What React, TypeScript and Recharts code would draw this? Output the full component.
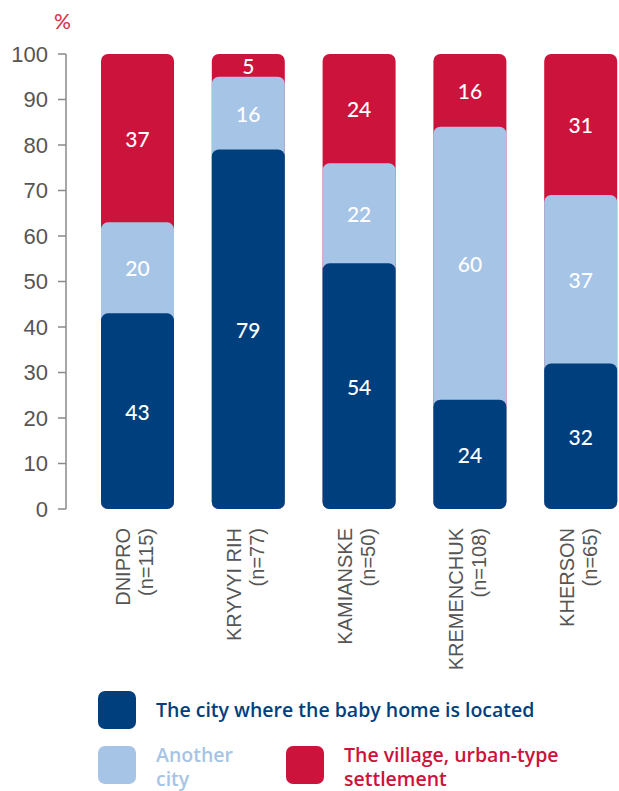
import { BarChart, Bar, XAxis, YAxis, LabelList } from 'recharts';

const cities = ['DNIPRO', 'KRYVYI RIH', 'KAMIANSKE', 'KREMENCHUK', 'KHERSON'];
const sampleSizes = ['(n=115)', '(n=77)', '(n=50)', '(n=108)', '(n=65)'];
const sameCity = [43, 79, 54, 24, 32];
const anotherCity = [20, 16, 22, 60, 37];
const village = [37, 5, 24, 16, 31];
const yTicks = [0, 10, 20, 30, 40, 50, 60, 70, 80, 90, 100];

const DARK = '#003f7e';
const LIGHT = '#a6c4e6';
const RED = '#cc133b';
const LABEL_FONT = 'Lato, "Noto Sans", sans-serif';
const LEGEND_FONT = '"Open Sans", Lato, sans-serif';
const AXIS_FONT = "'Liberation Sans', Arial, sans-serif";

// segments overlap: each bar runs from 0 up to its cumulative top, lower segments drawn last
const data = cities.map((city, i) => ({
  city,
  n: sampleSizes[i],
  sameCity: sameCity[i],
  anotherCity: anotherCity[i],
  village: village[i],
  lvl1: sameCity[i],
  lvl2: sameCity[i] + anotherCity[i],
  lvl3: sameCity[i] + anotherCity[i] + village[i],
}));

const makeLabel = (cumKey: 'lvl1' | 'lvl2' | 'lvl3') => (props: any) => {
  const { x, y, width, height, value, index } = props;
  const cum = data[index][cumKey];
  const cy = y + ((value / cum) * height) / 2;
  return (
    <text
      x={x + width / 2}
      y={cy}
      fill="#fff"
      fontSize={21}
      fontWeight={500}
      fontFamily={LABEL_FONT}
      textAnchor="middle"
      dominantBaseline="central"
    >
      {value}
    </text>
  );
};

const CityTick = (props: any) => {
  const { x, y, payload, index } = props;
  return (
    <g transform={`translate(${x},${y + 11}) rotate(-90)`}>
      <text x={0} y={-7} textAnchor="end" fill="#555" fontSize={20} fontFamily={AXIS_FONT}>
        {payload.value}
      </text>
      <text x={0} y={16} textAnchor="end" fill="#555" fontSize={20} fontFamily={AXIS_FONT}>
        {sampleSizes[index]}
      </text>
    </g>
  );
};

const LegendBox = ({ color }: { color: string }) => (
  <div style={{ width: 38, height: 38, borderRadius: 7, background: color, flexShrink: 0 }} />
);

export default function App() {
  const legendText = {
    fontFamily: LEGEND_FONT,
    fontSize: 19.5,
    fontWeight: 600,
    lineHeight: '24px',
  };

  return (
    <div
      style={{
        position: 'absolute',
        left: 0,
        top: 0,
        width: 619,
        height: 791,
        overflow: 'hidden',
        background: '#fff',
      }}
    >
      <div
        style={{
          position: 'absolute',
          left: 54,
          top: 8,
          color: '#d6384f',
          fontSize: 21,
          fontFamily: LABEL_FONT,
          fontWeight: 500,
        }}
      >
        %
      </div>

      <div style={{ position: 'absolute', left: 0, top: 0 }}>
        <BarChart
          width={640}
          height={685}
          data={data}
          margin={{ top: 54, right: 4, left: 0, bottom: 0 }}
        >
          <XAxis
            xAxisId="a"
            dataKey="city"
            height={176}
            axisLine={false}
            tickLine={false}
            interval={0}
            padding={{ left: 16, right: 0 }}
            tick={<CityTick />}
          />
          <XAxis xAxisId="b" dataKey="city" hide padding={{ left: 16, right: 0 }} />
          <XAxis xAxisId="c" dataKey="city" hide padding={{ left: 16, right: 0 }} />
          <YAxis
            width={66}
            domain={[0, 100]}
            ticks={yTicks}
            interval={0}
            tickSize={8}
            tickMargin={10}
            axisLine={{ stroke: '#8a8a8a', strokeWidth: 1.5 }}
            tickLine={{ stroke: '#8a8a8a', strokeWidth: 1.5 }}
            tick={{ fill: '#555', fontSize: 22, fontFamily: AXIS_FONT }}
          />
          <Bar xAxisId="c" dataKey="lvl3" fill={RED} barSize={73} radius={7} isAnimationActive={false}>
            <LabelList dataKey="village" content={makeLabel('lvl3')} />
          </Bar>
          <Bar xAxisId="b" dataKey="lvl2" fill={LIGHT} barSize={73} radius={7} isAnimationActive={false}>
            <LabelList dataKey="anotherCity" content={makeLabel('lvl2')} />
          </Bar>
          <Bar xAxisId="a" dataKey="lvl1" fill={DARK} barSize={73} radius={7} isAnimationActive={false}>
            <LabelList dataKey="sameCity" content={makeLabel('lvl1')} />
          </Bar>
        </BarChart>
      </div>

      <div style={{ position: 'absolute', left: 98, top: 691, display: 'flex', alignItems: 'center' }}>
        <LegendBox color={DARK} />
        <span style={{ ...legendText, color: DARK, marginLeft: 20 }}>
          The city where the baby home is located
        </span>
      </div>

      <div style={{ position: 'absolute', left: 98, top: 746, display: 'flex', alignItems: 'flex-start' }}>
        <LegendBox color={LIGHT} />
        <span style={{ ...legendText, color: LIGHT, marginLeft: 20, width: 90, marginTop: -3 }}>
          Another city
        </span>
      </div>

      <div style={{ position: 'absolute', left: 286, top: 746, display: 'flex', alignItems: 'flex-start' }}>
        <LegendBox color={RED} />
        <span style={{ ...legendText, color: RED, marginLeft: 20, width: 270, marginTop: -3 }}>
          The village, urban-type settlement
        </span>
      </div>
    </div>
  );
}
